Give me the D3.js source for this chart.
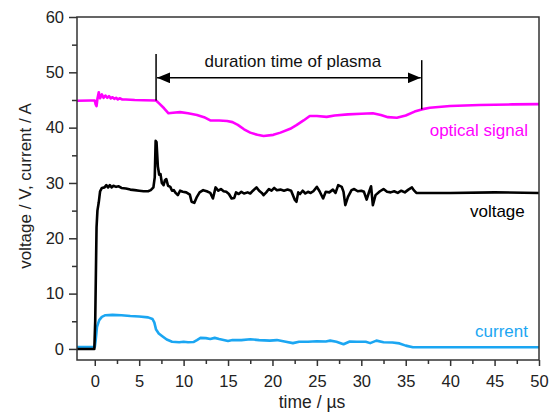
<!DOCTYPE html>
<html>
<head>
<meta charset="utf-8">
<script src="https://cdn.jsdelivr.net/npm/d3@7"></script>
<style>
body { margin:0; background:#fff; }
svg text { font-family:"Liberation Sans", Arial, sans-serif; }
</style>
</head>
<body>
<svg id="chart"></svg>
<script>
// optical signal [time in µs, value]
var optical = [[-2,44.85],[-0.5,44.9],[0,44.9],[0.1,44.2],[0.2,43.9],[0.3,45.2],[0.45,46.4],[0.6,45.3],[0.8,46.0],
    [1.0,45.4],[1.2,45.8],[1.4,45.4],[1.6,45.7],[1.8,45.3],[2.0,45.5],[2.2,45.2],[2.4,45.4],[2.6,45.1],[2.8,45.3],
    [3.1,45.1],[3.5,45.1],[4.5,45.0],[5.5,44.95],[6.9,44.9],[7.3,44.3],[7.8,43.5],[8.3,42.6],[8.8,42.7],[9.6,42.8],
    [10.5,42.6],[11.5,42.3],[12.3,41.9],[13,41.3],[14,41.3],[14.9,41.2],[15.5,41.0],[16.1,40.5],[16.8,39.7],
    [17.5,39.1],[18.3,38.7],[19,38.5],[20.1,38.7],[20.9,39.1],[22,39.8],[22.7,40.45],[23.5,41.3],[24.2,42.1],
    [25,42.1],[26.1,41.95],[27,42.2],[28.5,42.4],[30,42.5],[31.3,42.6],[32.2,42.3],[33,41.9],[34,41.8],[35,42.2],
    [36,42.9],[36.8,43.3],[37.7,43.6],[40,43.9],[43.3,44.1],[47,44.2],[50,44.25]];

// voltage
var voltage = [[-2,0],[-0.05,0],[0.05,5],[0.2,22],[0.3,25],[0.45,26.5],[0.6,28.5],[0.8,29.1],[1.1,29.2],[1.3,29.6],
    [1.5,29.2],[1.7,29.6],[1.9,29.2],[2.1,29.5],[2.4,29.3],[2.7,29.4],[3,29.1],[3.5,29],[4,28.8],[4.5,28.7],[5,28.6],
    [5.5,28.5],[6,28.5],[6.3,28.7],[6.6,29.2],[6.75,31],[6.85,37.6],[6.95,37.4],[7.1,33],[7.25,31.5],[7.4,31.6],
    [7.55,30],[7.75,29.6],[7.9,30.5],[8.05,30.7],[8.25,29.5],[8.5,29.3],[8.7,28.6],[8.9,28.7],[9.1,28.2],[9.35,27.8],
    [9.6,28.6],[9.9,28.4],[10.3,28.3],[10.7,27.9],[10.9,26.6],[11.2,26.4],[11.5,27.5],[11.8,28.3],[12.2,28.7],
    [12.6,28.5],[13.0,28.2],[13.3,27.2],[13.6,29.2],[13.9,28.6],[14.2,28.9],[14.5,28.5],[14.8,28.4],[15.1,28.0],
    [15.4,27.2],[15.7,27.3],[15.9,28.3],[16.2,28.0],[16.5,28.4],[16.8,28.1],[17.2,28.3],[17.5,28.1],[17.8,28.6],
    [18.2,29.2],[18.5,28.6],[18.8,28.2],[19.0,27.8],[19.3,28.3],[19.6,28.9],[19.9,28.6],[20.2,29.1],[20.5,28.7],
    [20.9,28.8],[21.3,28.6],[21.7,28.8],[22.1,28.6],[22.5,27.0],[22.7,26.6],[22.9,28.3],[23.1,28.0],[23.4,28.6],
    [23.7,28.1],[24,28.4],[24.3,28.2],[24.6,28.5],[25.0,29.3],[25.3,28.5],[25.7,27.2],[26.0,28.4],[26.4,28.3],
    [26.8,28.8],[27.1,28.2],[27.4,29.6],[27.8,29.3],[28.0,28.4],[28.2,26.0],[28.5,27.5],[28.9,28.7],[29.2,28.9],
    [29.6,28.5],[30.0,28.6],[30.3,28.4],[30.6,27.0],[30.9,28.5],[31.1,29.4],[31.3,26.0],[31.6,27.8],[32.1,28.5],
    [32.5,28.9],[32.9,28.4],[33.3,28.3],[33.7,28.5],[34.1,28.2],[34.5,28.6],[34.9,28.3],[35.3,28.8],[35.7,29.2],
    [35.9,28.7],[36.2,28.2],[40,28.2],[45,28.3],[50,28.2]];

// current
var current = [[-2,0.35],[0,0.35],[0.1,1.5],[0.25,4],[0.5,5.2],[0.8,5.8],[1.2,6.1],[2,6.15],[3,6.1],[4,5.95],
    [5,5.85],[6,5.7],[6.5,5.4],[6.7,4.8],[6.9,3.5],[7.2,2.8],[7.6,2.3],[8.1,1.7],[8.7,1.3],[9.5,1.2],[10,1.3],
    [10.5,1.2],[11.1,1.25],[11.5,1.6],[11.9,2.0],[12.5,1.95],[13,1.8],[13.5,2.0],[14,1.8],[15,1.45],[15.5,1.6],
    [16.5,1.6],[17.5,1.75],[18.5,1.6],[19.7,1.5],[20.5,1.6],[21.5,1.3],[22.3,1.05],[23,1.3],[24,1.3],[25,1.4],
    [26,1.35],[26.5,1.5],[27.2,1.3],[28,0.85],[28.7,1.35],[29.5,1.3],[30.5,1.3],[31,1.05],[31.7,1.5],[32.5,1.2],
    [33.5,1.15],[34.3,1.0],[35,0.6],[35.8,0.3],[40,0.3],[45,0.3],[50,0.3]];

var xTicks = [0,5,10,15,20,25,30,35,40,45,50];
var xMinorTicks = [2.5,7.5,12.5,17.5,22.5,27.5,32.5,37.5,42.5,47.5];
var yTicks = [0,10,20,30,40,50,60];
var yMinorTicks = [5,15,25,35,45,55];

// series labels: text, anchor time, anchor value
var seriesLabels = [
    {name:"optical signal", t:48.76, v:38.5, color:"#ff00ff", data:optical},
    {name:"voltage", t:48.4, v:23.85, color:"#000000", data:voltage},
    {name:"current", t:48.76, v:2.16, color:"#1ba6f2", data:current}
];

// the plasma duration marker
var plasmaStart = 6.9, plasmaEnd = 36.8;
var plasmaStartTop = 53.3, plasmaEndTop = 52.2, arrowLevel = 49, plasmaText = "duration time of plasma";

var screen = {width:552, height:416};
var margins = {top:17, bottom:56, left:77, right:13};
var graph = {
    width:screen.width-margins.left-margins.right,
    height:screen.height-margins.top-margins.bottom
};

var svg = d3.select("#chart")
    .attr("width",screen.width)
    .attr("height",screen.height);

var xScale = d3.scaleLinear().domain([-2,50]).range([margins.left, margins.left+graph.width]);
var yScale = d3.scaleLinear().domain([-2,60]).range([margins.top+graph.height, margins.top]);

var defs = svg.append("defs");
defs.append("marker")
    .attr("id","arrow")
    .attr("viewBox","0 0 12 10")
    .attr("refX",12).attr("refY",5)
    .attr("markerWidth",13).attr("markerHeight",11)
    .attr("markerUnits","userSpaceOnUse")
    .attr("orient","auto-start-reverse")
    .append("path")
    .attr("d","M0,0L12,5L0,10Z")
    .attr("fill","#000");

// curves
var line = d3.line()
    .x(function(d){return xScale(d[0]);})
    .y(function(d){return yScale(d[1]);});

svg.append("g").selectAll("path")
    .data(seriesLabels.slice().reverse())
    .enter()
    .append("path")
    .attr("d",function(s){return line(s.data);})
    .attr("fill","none")
    .attr("stroke",function(s){return s.color;})
    .attr("stroke-width",2.6)
    .attr("stroke-linejoin","round");

// frame
svg.append("rect")
    .attr("x",margins.left).attr("y",margins.top)
    .attr("width",graph.width).attr("height",graph.height)
    .attr("fill","none")
    .attr("stroke","#333")
    .attr("stroke-width",1.5);

// axes
var styleAxis = function(g)
{
    g.select(".domain").remove();
    g.selectAll(".tick line").attr("stroke","#333").attr("stroke-width",1.5);
    g.selectAll(".tick text").attr("fill","#222").attr("font-size","16.5px")
        .attr("font-family","'Liberation Sans', Arial, sans-serif");
}

svg.append("g")
    .attr("transform","translate(0,"+(margins.top+graph.height)+")")
    .call(d3.axisBottom(xScale).tickValues(xMinorTicks).tickFormat("").tickSize(4))
    .call(styleAxis);
svg.append("g")
    .attr("transform","translate(0,"+(margins.top+graph.height)+")")
    .call(d3.axisBottom(xScale).tickValues(xTicks).tickSize(6).tickPadding(9))
    .call(styleAxis);
svg.append("g")
    .attr("transform","translate("+margins.left+",0)")
    .call(d3.axisLeft(yScale).tickValues(yMinorTicks).tickFormat("").tickSize(5))
    .call(styleAxis);
svg.append("g")
    .attr("transform","translate("+margins.left+",0)")
    .call(d3.axisLeft(yScale).tickValues(yTicks).tickSize(8).tickPadding(5))
    .call(styleAxis);

// axis titles
svg.append("text")
    .attr("x",312).attr("y",408)
    .attr("text-anchor","middle")
    .attr("font-size","17.5px")
    .attr("fill","#222")
    .text("time / µs");
svg.append("text")
    .attr("transform","translate(31,186) rotate(-90)")
    .attr("text-anchor","middle")
    .attr("font-size","17px")
    .attr("fill","#222")
    .text("voltage / V, current / A");

// series labels
svg.append("g").selectAll("text")
    .data(seriesLabels)
    .enter()
    .append("text")
    .attr("x",function(s){return xScale(s.t);})
    .attr("y",function(s){return yScale(s.v);})
    .attr("text-anchor","end")
    .attr("font-size","17px")
    .attr("fill",function(s){return s.color;})
    .text(function(s){return s.name;});

// plasma duration marker
var marker = svg.append("g").attr("stroke","#000").attr("stroke-width",1.5);
marker.append("line")
    .attr("x1",xScale(plasmaStart)).attr("x2",xScale(plasmaStart))
    .attr("y1",yScale(plasmaStartTop)).attr("y2",yScale(44.9));
marker.append("line")
    .attr("x1",xScale(plasmaEnd)).attr("x2",xScale(plasmaEnd))
    .attr("y1",yScale(plasmaEndTop)).attr("y2",yScale(43.3));
marker.append("line")
    .attr("x1",xScale(plasmaStart)+1).attr("x2",xScale(plasmaEnd)-1)
    .attr("y1",yScale(arrowLevel)).attr("y2",yScale(arrowLevel))
    .attr("marker-start","url(#arrow)")
    .attr("marker-end","url(#arrow)");
svg.append("text")
    .attr("x",xScale((plasmaStart+plasmaEnd)/2+0.45))
    .attr("y",yScale(50.96))
    .attr("text-anchor","middle")
    .attr("font-size","17px")
    .attr("fill","#111")
    .text(plasmaText);
</script>
</body>
</html>
